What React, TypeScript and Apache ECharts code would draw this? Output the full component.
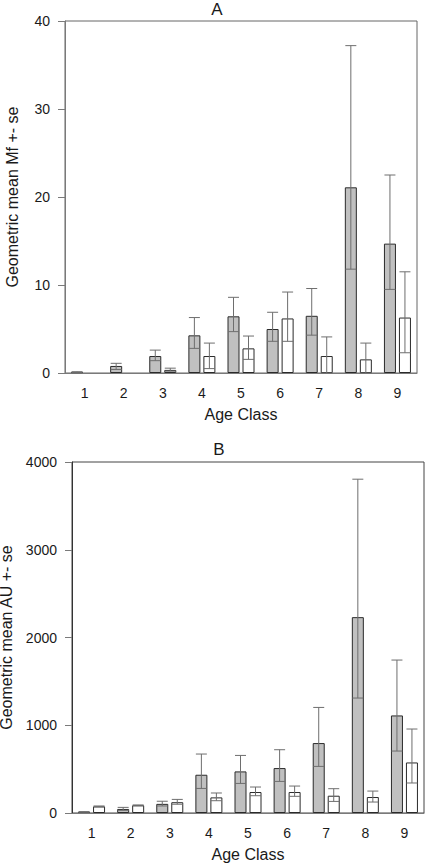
import React, { useEffect, useRef } from "react";
import * as echarts from "echarts";

const categories = ["1", "2", "3", "4", "5", "6", "7", "8", "9"];

// Panel A: Geometric mean Mf
const aGrayMean = [0.1, 0.8, 1.93, 4.28, 6.44, 5.0, 6.5, 21.1, 14.7];
const aGrayLow = [0.05, 0.4, 1.4, 2.8, 4.7, 3.6, 4.3, 11.8, 9.5];
const aGrayHigh = [0.15, 1.1, 2.6, 6.3, 8.6, 6.9, 9.6, 37.2, 22.5];
const aWhiteMean = [0, 0, 0.35, 1.93, 2.8, 6.2, 1.93, 1.55, 6.3];
const aWhiteLow = [0, 0, 0.2, 0.5, 1.55, 3.6, 0, 0, 2.3];
const aWhiteHigh = [0, 0, 0.55, 3.4, 4.2, 9.2, 4.1, 3.4, 11.5];

// Panel B: Geometric mean AU
const bGrayMean = [12, 46, 104, 436, 474, 512, 797, 2232, 1112];
const bGrayLow = [8, 30, 80, 280, 337, 360, 531, 1310, 706];
const bGrayHigh = [16, 64, 134, 672, 656, 721, 1203, 3804, 1743];
const bWhiteMean = [75, 88, 123, 178, 239, 239, 197, 182, 576];
const bWhiteLow = [70, 82, 100, 140, 197, 190, 132, 125, 342];
const bWhiteHigh = [80, 92, 155, 228, 296, 307, 277, 250, 957];

const BAR_W = 12;
const BAR_GAP = 3;
const OFF = (BAR_W + BAR_GAP) / 2;
const CAP = 11;
const FONT = "Liberation Sans, Arial, sans-serif";
const TXT = "#1a1a1a";
const AXC = "#7a7a7a";

function errData(low: number[], high: number[]) {
  return low.map((l, i) => [i, l, high[i]]);
}

function errSeries(low: number[], high: number[], idx: number, offset: number) {
  return {
    type: "custom",
    xAxisIndex: idx,
    yAxisIndex: idx,
    z: 5,
    data: errData(low, high),
    encode: { x: 0, y: [1, 2] },
    renderItem: (params: any, api: any) => {
      const i = api.value(0);
      const lo = api.value(1);
      const hi = api.value(2);
      if (lo === 0 && hi === 0) return { type: "group", children: [] };
      const pLo = api.coord([i, lo]);
      const pHi = api.coord([i, hi]);
      const x = pLo[0] + offset;
      const st = { stroke: "#6e6e6e", lineWidth: 1 };
      return {
        type: "group",
        children: [
          { type: "line", shape: { x1: x, y1: pLo[1], x2: x, y2: pHi[1] }, style: st },
          { type: "line", shape: { x1: x - CAP / 2, y1: pHi[1], x2: x + CAP / 2, y2: pHi[1] }, style: st },
          { type: "line", shape: { x1: x - CAP / 2, y1: pLo[1], x2: x + CAP / 2, y2: pLo[1] }, style: st },
        ],
      };
    },
  };
}

function barSeries(data: number[], idx: number, color: string) {
  return {
    type: "bar",
    xAxisIndex: idx,
    yAxisIndex: idx,
    data: data.map((v) => (v === 0 ? "-" : v)),
    barWidth: BAR_W,
    barGap: (BAR_GAP / BAR_W) * 100 + "%",
    itemStyle: { color, borderColor: "#2a2a2a", borderWidth: 1 },
    z: 3,
  };
}

function xAxis(idx: number) {
  return {
    type: "category",
    gridIndex: idx,
    data: categories,
    name: "Age Class",
    nameLocation: "middle",
    nameGap: 33,
    nameTextStyle: { fontSize: 16, color: TXT, fontFamily: FONT },
    axisLine: { lineStyle: { color: AXC } },
    axisTick: { alignWithLabel: true, length: 4, lineStyle: { color: AXC } },
    axisLabel: { fontSize: 14, color: TXT, fontFamily: FONT, margin: 13 },
  };
}

function yAxis(idx: number, max: number, interval: number, name: string, gap: number, lineColor: string) {
  return {
    type: "value",
    gridIndex: idx,
    min: 0,
    max,
    interval,
    name,
    nameLocation: "middle",
    nameGap: gap,
    nameTextStyle: { fontSize: 16, color: TXT, fontFamily: FONT },
    axisLine: { show: true, lineStyle: { color: lineColor } },
    axisTick: { show: true, length: 7, lineStyle: { color: AXC } },
    axisLabel: { fontSize: 14, color: TXT, fontFamily: FONT, margin: 15, formatter: (v: number) => String(v) },
    splitLine: { show: false },
  };
}

export default function App() {
  const ref = useRef<HTMLDivElement>(null);
  useEffect(() => {
    if (!ref.current) return;
    const chart = echarts.init(ref.current, null, { renderer: "svg" });
    chart.setOption({
      animation: false,
      backgroundColor: "#fff",
      title: [
        { text: "A", left: 212, top: -4, textAlign: "center", textStyle: { fontSize: 17, fontWeight: "normal", color: TXT, fontFamily: FONT } },
        { text: "B", left: 214, top: 436, textAlign: "center", textStyle: { fontSize: 17, fontWeight: "normal", color: TXT, fontFamily: FONT } },
      ],
      grid: [
        { left: 65, top: 21, right: 8, bottom: 490, show: true, borderColor: "#666", borderWidth: 1, backgroundColor: "transparent", containLabel: false, outerBoundsMode: "none" },
        { left: 72, top: 462, right: 1, bottom: 50, show: true, borderColor: "#444", borderWidth: 1, backgroundColor: "transparent", containLabel: false, outerBoundsMode: "none" },
      ],
      xAxis: [xAxis(0), xAxis(1)],
      yAxis: [
        yAxis(0, 40, 10, "Geometric mean Mf +- se", 45, AXC),
        yAxis(1, 4000, 1000, "Geometric mean AU +- se", 51, "#333"),
      ],
      series: [
        barSeries(aGrayMean, 0, "#c0c0c0"),
        barSeries(aWhiteMean, 0, "#ffffff"),
        errSeries(aGrayLow, aGrayHigh, 0, -OFF),
        errSeries(aWhiteLow, aWhiteHigh, 0, OFF),
        barSeries(bGrayMean, 1, "#c0c0c0"),
        barSeries(bWhiteMean, 1, "#ffffff"),
        errSeries(bGrayLow, bGrayHigh, 1, -OFF),
        errSeries(bWhiteLow, bWhiteHigh, 1, OFF),
      ],
    });
    return () => chart.dispose();
  }, []);
  return (
    <div
      ref={ref}
      style={{ position: "absolute", left: 0, top: 0, width: 425, height: 863 }}
    />
  );
}
